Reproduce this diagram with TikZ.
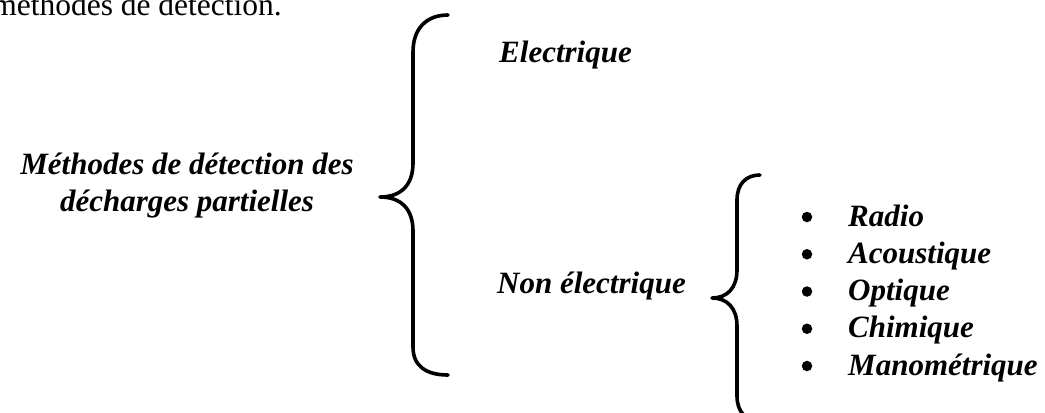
\documentclass[tikz,border=0pt]{standalone}
\usepackage{fontspec}
\setmainfont{Liberation Serif}
\begin{document}
\begin{tikzpicture}[x=1bp,y=-1bp,
  lbl/.style={inner sep=0pt, font=\fontsize{31bp}{37bp}\selectfont\bfseries\itshape},
  plain/.style={inner sep=0pt, font=\fontsize{31.5bp}{37bp}\selectfont},
  bracepath/.style={line width=3.6bp, line cap=round, line join=round},
  bul/.style={circle, fill=black, inner sep=0pt, minimum size=10.5bp}]
\useasboundingbox (0,0) rectangle (1045,412);
\clip (0,0) rectangle (1045,412);
% top truncated text
\node[plain, anchor=base east] (top) at (282,15) {méthodes de détection.};
% main title
\node[lbl, align=center, anchor=center] (title) at (187,186) {Méthodes de détection des\\décharges partielles};
% big brace
\draw[bracepath] (448,15) .. controls (426,15) and (413,29) .. (413,52) -- (413,163)
  .. controls (413,185) and (401,197) .. (380,197)
  .. controls (401,197) and (413,209) .. (413,231) -- (413,347)
  .. controls (413,366) and (426,375) .. (448,375);
\node[lbl, anchor=base west] (elec) at (499,62) {Electrique};
\node[lbl, anchor=base west] (nonelec) at (497,293) {Non électrique};
% small brace
\draw[bracepath] (760,175) .. controls (746,175) and (737,184) .. (737,200) -- (737,270)
  .. controls (737,288) and (727,298) .. (712,298)
  .. controls (727,298) and (737,308) .. (737,326) -- (737,396)
  .. controls (737,412) and (746,421) .. (760,421);
% list
\foreach \t [count=\i from 0] in {Radio,Acoustique,Optique,Chimique,Manométrique}{
  \node[bul] (b\i) at (807,{217+37.25*\i}) {};
  \node[lbl, anchor=base west] (t\i) at (848,{226+37.25*\i}) {\t};
}
\end{tikzpicture}
\end{document}
